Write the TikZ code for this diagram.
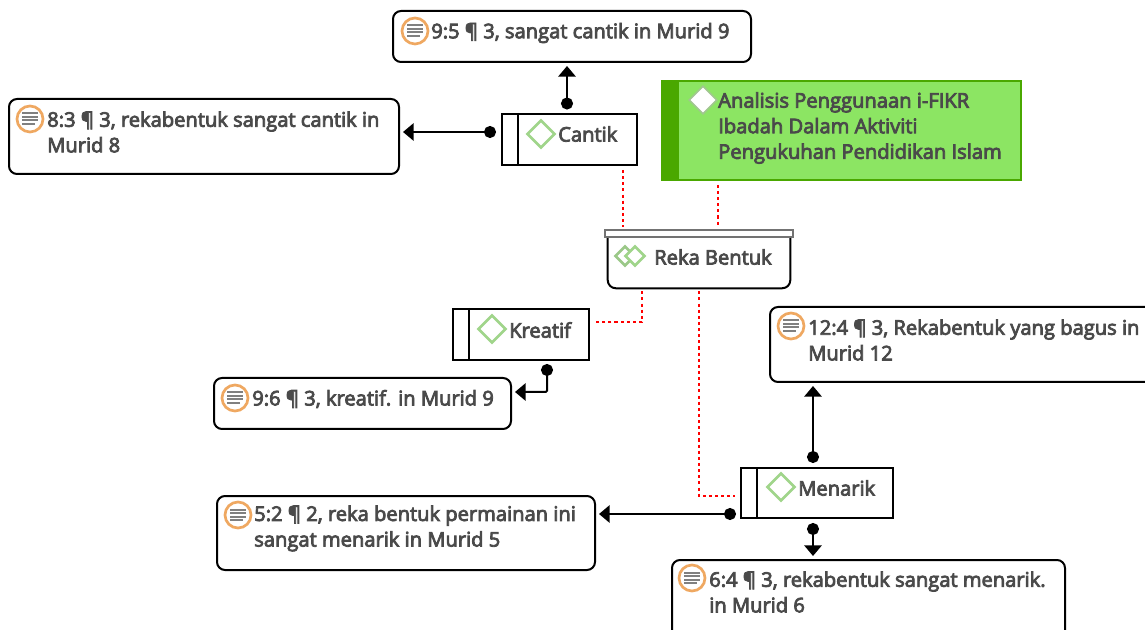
\documentclass[tikz,border=0pt]{standalone}
\usepackage{fontspec}
\setmainfont{Open Sans}[UprightFeatures={FakeBold=4}]
\usetikzlibrary{calc}
\usetikzlibrary{arrows.meta}
\usetikzlibrary{shapes.geometric}
\definecolor{txtgray}{HTML}{4A4A4A}
\definecolor{notering}{HTML}{EFA861}
\definecolor{codegreen}{HTML}{A0D58A}
\definecolor{memofill}{HTML}{8CE563}
\definecolor{memodark}{HTML}{4AA800}
% note icon: name, position
\newcommand{\noteicon}[2]{
	\node[noteic] (#1) at (#2) {};
	\foreach \yy/\ww in {-5.5/8,-2/8,1.5/8,5/5}
		\draw[black!50,line width=1.5pt] ($(#1)+(-8,\yy)$) -- ($(#1)+(\ww,\yy)$);
}
\begin{document}
\begin{tikzpicture}[x=.75pt,y=-.75pt] %% all in px of the reference
	\tikzstyle{quote}=[draw=black,fill=white,line width=1.5pt,rounded corners=6pt,inner sep=0pt];
	\tikzstyle{code}=[draw=black,fill=white,line width=1.5pt,inner sep=0pt];
	\tikzstyle{lbl}=[text=txtgray,inner sep=0pt,anchor=west,align=left,font=\fontsize{15.1}{19.2}\selectfont];
	\tikzstyle{noteic}=[circle,draw=notering,fill=white,line width=2pt,inner sep=0pt,minimum size=19.5pt];
	\tikzstyle{gem}=[diamond,draw=codegreen,fill=white,line width=2pt,inner sep=0pt,minimum size=21pt];
	\tikzstyle{link}=[line width=1.5pt,{Circle[length=9pt,width=9pt]}-{Triangle[length=8pt,width=13pt]}];
	\tikzstyle{rel}=[red,line width=1.5pt,dash pattern=on 2.3pt off 2.3pt];
	\path[use as bounding box,clip] (0,0) rectangle (1145,630);
	\fill[white] (0,0) rectangle (1145,630);

	\node[quote,minimum width=268.5pt,minimum height=38.25pt] (q95) at (572,36.5) {};
	\noteicon{i95}{415,31}
	\node[lbl] (t95) at (431,33) {9:5 ¶ 3, sangat cantik in Murid 9};

	\node[quote,minimum width=292.5pt,minimum height=56.25pt] (q83) at (204,136.5) {};
	\noteicon{i83}{30,119}
	\node[lbl] (t83) at (47,132) {8:3 ¶ 3, rekabentuk sangat cantik in\\Murid 8};

	\node[code,minimum width=101.25pt,minimum height=38.25pt] (cantik) at (569.5,139.5) {};
	\draw[line width=1.5pt] ($(cantik.north west)+(17,0)$) -- ($(cantik.south west)+(17,0)$);
	\node[gem] (g1) at (541,134) {};
	\node[lbl] (t1) at (558,134) {Cantik};

	\node[draw=memodark,fill=memofill,line width=1.2pt,minimum width=269.25pt,minimum height=74.25pt,inner sep=0pt] (memo) at (841.5,130.5) {};
	\fill[memodark] (memo.north west) rectangle ($(memo.south west)+(18,0)$);
	\node[gem,draw=memofill!70!black!60!white,line width=1.2pt] (g2) at (703,100) {};
	\node[lbl] (t2) at (718,128) {Analisis Penggunaan i-FIKR\\Ibadah Dalam Aktiviti\\Pengukuhan Pendidikan Islam};

	\node[fill=white,inner sep=0pt,minimum width=136.5pt,minimum height=38.25pt] (reka) at (699,262.5) {};
	\draw[line width=1.5pt,rounded corners=6pt] (reka.north west) -- (reka.south west) -- (reka.south east) -- (reka.north east);
	\node[draw=black!55,fill=white,line width=1.5pt,minimum width=141pt,minimum height=5.25pt,inner sep=0pt] (rekabar) at (699,233.5) {};
	\node[gem,minimum size=15pt,draw=codegreen!85!gray] (g3a) at (625,256) {};
	\node[gem,minimum size=15pt] (g3) at (635,256) {};
	\node[lbl] (t3) at (654,257) {Reka Bentuk};

	\node[code,minimum width=102pt,minimum height=38.25pt] (kreatif) at (521,334.5) {};
	\draw[line width=1.5pt] ($(kreatif.north west)+(17,0)$) -- ($(kreatif.south west)+(17,0)$);
	\node[gem] (g4) at (492,329) {};
	\node[lbl] (t4) at (509,330) {Kreatif};

	\node[quote,minimum width=222.75pt,minimum height=38.25pt] (q96) at (362.5,403.5) {};
	\noteicon{i96}{235,398}
	\node[lbl] (t96) at (252,399) {9:6 ¶ 3, kreatif. in Murid 9};

	\node[quote,minimum width=292.5pt,minimum height=56.25pt] (q124) at (965,344.5) {};
	\noteicon{i124}{791,326}
	\node[lbl] (t124) at (808,340) {12:4 ¶ 3, Rekabentuk yang bagus in\\Murid 12};

	\node[code,minimum width=114pt,minimum height=37.5pt] (menarik) at (817,493) {};
	\draw[line width=1.5pt] ($(menarik.north west)+(17,0)$) -- ($(menarik.south west)+(17,0)$);
	\node[gem] (g5) at (781,487) {};
	\node[lbl] (t5) at (798,488) {Menarik};

	\node[quote,minimum width=283.5pt,minimum height=55.5pt] (q52) at (406,533) {};
	\noteicon{i52}{238,515}
	\node[lbl] (t52) at (254,528.5) {5:2 ¶ 2, reka bentuk permainan ini\\sangat menarik in Murid 5};

	\node[quote,minimum width=294.75pt,minimum height=67.5pt] (q64) at (868.5,605) {};
	\noteicon{i64}{692,578}
	\node[lbl] (t64) at (709,592) {6:4 ¶ 3, rekabentuk sangat menarik.\\in Murid 6};

	% links
	\draw[link,shorten <=3.5*.75pt,shorten >=3*.75pt] ($(cantik.north)+(-2.5,0)$) -- ($(q95.south)+(-5,0)$);
	\draw[link,shorten <=5*.75pt,shorten >=3*.75pt] ($(cantik.west)+(0,-7.5)$) -- ($(q83.east)+(0,-4.5)$);
	\draw[link,shorten <=3*.75pt,shorten >=3*.75pt,rounded corners=1pt] ($(kreatif.south)+(26,0)$) |- ($(q96.east)+(0,-11.5)$);
	\draw[link,shorten <=4*.75pt,shorten >=3*.75pt] ($(menarik.north)+(-4,0)$) -- ($(q124.south)+(-152,0)$);
	\draw[link,shorten <=4*.75pt,shorten >=3*.75pt] ($(menarik.west)+(0,21)$) -- ($(q52.east)+(0,-19)$);
	\draw[link,shorten <=4*.75pt,shorten >=3*.75pt] ($(menarik.south)+(-4,0)$) -- ($(q64.north)+(-55.5,0)$);

	% relations
	\draw[rel,shorten <=4*.75pt,shorten >=2*.75pt] ($(cantik.south)+(53.5,0)$) -- ($(rekabar.north)+(-76,0)$);
	\draw[rel,shorten <=4*.75pt,shorten >=2*.75pt] ($(memo.south)+(-123.5,0)$) -- ($(rekabar.north)+(19,0)$);
	\draw[rel,shorten <=3*.75pt,shorten >=5*.75pt] ($(reka.south)+(-57,0)$) |- ($(kreatif.east)+(0,-12.5)$);
	\draw[rel,shorten <=3*.75pt,shorten >=5*.75pt] ($(reka.south)+(0,0)$) |- ($(menarik.west)+(0,3)$);
\end{tikzpicture}
\end{document}
